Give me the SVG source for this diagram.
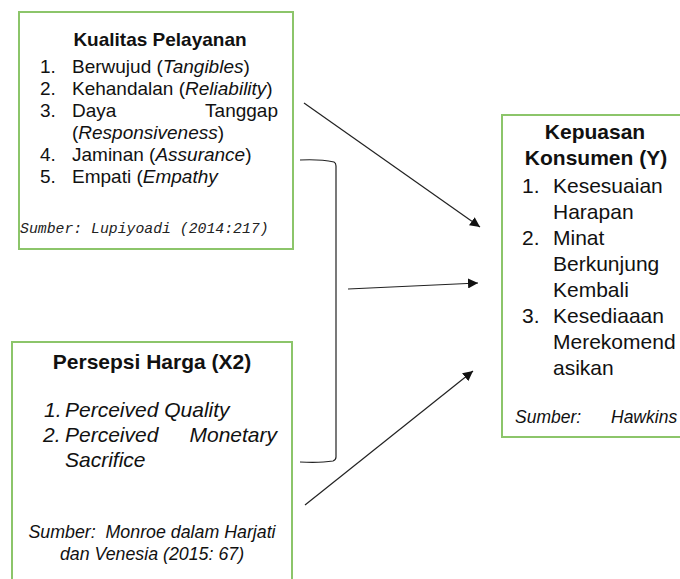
<svg xmlns="http://www.w3.org/2000/svg" width="680" height="579" viewBox="0 0 680 579">
<style>
.box{fill:#fff;stroke:#8cc56a;stroke-width:2}
.t{font-family:"Liberation Sans",Arial,sans-serif;fill:#111}
.b{font-weight:bold}
.i{font-style:italic}
.m{font-family:"Liberation Mono","Courier New",monospace;font-style:italic;fill:#222}
.c{fill:none;stroke:#222;stroke-width:1.2}
</style>
<defs>
<marker id="ah" viewBox="0 0 10 10" refX="10" refY="5" markerWidth="10" markerHeight="10" markerUnits="userSpaceOnUse" orient="auto">
<path d="M0,0 L10,5 L0,10 z" fill="#111"/>
</marker>
</defs>
<rect width="680" height="579" fill="#fff"/>
<g id="kualitas">
<rect class="box" x="19" y="12" width="274" height="237"/>
<text class="t b" x="160" y="46" font-size="19" text-anchor="middle">Kualitas Pelayanan</text>
<g class="t" font-size="19">
<text x="40" y="73">1.</text><text x="72" y="73">Berwujud (<tspan class="i">Tangibles</tspan>)</text>
<text x="40" y="95">2.</text><text x="72" y="95">Kehandalan (<tspan class="i">Reliability</tspan>)</text>
<text x="40" y="117">3.</text><text x="72" y="117">Daya</text><text x="278" y="117" text-anchor="end">Tanggap</text>
<text x="72" y="139">(<tspan class="i">Responsiveness</tspan>)</text>
<text x="40" y="161">4.</text><text x="72" y="161">Jaminan (<tspan class="i">Assurance</tspan>)</text>
<text x="40" y="183">5.</text><text x="72" y="183">Empati (<tspan class="i">Empathy</tspan></text>
</g>
<text class="m" x="20" y="233" font-size="14.8">Sumber: Lupiyoadi (2014:217)</text>
</g>
<g id="persepsi">
<rect class="box" x="12" y="342" width="280" height="260"/>
<text class="t b" x="152" y="369" font-size="21" text-anchor="middle">Persepsi Harga (X2)</text>
<g class="t i" font-size="21">
<text x="44" y="417">1.</text><text x="65" y="417">Perceived Quality</text>
<text x="43" y="442">2.</text><text x="65" y="442">Perceived</text><text x="277" y="442" text-anchor="end">Monetary</text>
<text x="65" y="467">Sacrifice</text>
</g>
<g class="t i" font-size="17.8" text-anchor="middle">
<text x="152" y="538" xml:space="preserve">Sumber:  Monroe dalam Harjati</text>
<text x="152" y="560">dan Venesia (2015: 67)</text>
</g>
</g>
<g id="kepuasan">
<rect class="box" x="502" y="115" width="200" height="322"/>
<g class="t b" font-size="21" text-anchor="middle">
<text x="595" y="139">Kepuasan</text>
<text x="596" y="165">Konsumen (Y)</text>
</g>
<g class="t" font-size="21">
<text x="522" y="193">1.</text><text x="553" y="193">Kesesuaian</text>
<text x="553" y="219">Harapan</text>
<text x="522" y="245">2.</text><text x="553" y="245">Minat</text>
<text x="553" y="271">Berkunjung</text>
<text x="553" y="297">Kembali</text>
<text x="522" y="323">3.</text><text x="553" y="323">Kesediaaan</text>
<text x="553" y="349">Merekomend</text>
<text x="553" y="375">asikan</text>
</g>
<g class="t i" font-size="17.5">
<text x="515" y="423">Sumber:</text>
<text x="611" y="423">Hawkins</text>
</g>
</g>
<g id="connectors">
<path class="c" d="M300,160 Q320,159 334,162 Q336,163 336,166 L336,457 Q336,460 333,461 Q320,463 300,462"/>
<line class="c" x1="304" y1="103" x2="480" y2="227" marker-end="url(#ah)"/>
<line class="c" x1="348" y1="289" x2="478" y2="283" marker-end="url(#ah)"/>
<line class="c" x1="305" y1="505" x2="473" y2="371" marker-end="url(#ah)"/>
</g>
</svg>
